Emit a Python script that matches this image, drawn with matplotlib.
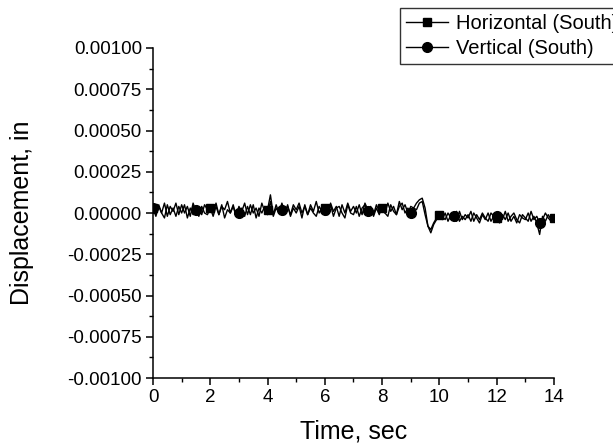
import numpy as np
import matplotlib
matplotlib.use('Agg')
import matplotlib.pyplot as plt
from matplotlib.ticker import MultipleLocator, FormatStrFormatter

plt.rcParams['font.family'] = ['Liberation Sans', 'DejaVu Sans']

# time samples, sec
t = np.linspace(0, 14, 141)

# displacements, in 1e-5 in
horiz_e5 = [3, -1, 5, 0, 6, -2, 4, 1, 6, -1,
            5, 0, 4, -2, 6, 1, 3, -1, 5, 2,
            3, 0, 6, -1, 4, 2, 7, 0, 5, -2,
            4, 1, 6, -1, 5, 0, 3, -2, 6, 1,
            2, 11, -1, 5, 0, 6, 1, 4, -1, 5,
            2, 6, 0, 4, -1, 5, 1, 7, 0, 3,
            3, -1, 6, 1, 4, -2, 5, 0, 6, 1,
            4, 0, 5, -1, 6, 2, 3, -1, 5, 1,
            3, 0, 6, 1, 4, -1, 7, 2, 5, 0,
            4, 3, 6, 8, 9, 3, -8, -12, -7, -4,
            -1, -4, 0, -5, -1, -3, 1, -5, -2, -4,
            -1, -5, 0, -3, -6, -1, -4, 0, -5, -2,
            -3, -6, -1, -4, 0, -5, -2, -6, -1, -3,
            -4, 0, -5, -2, -6, -13, -2, -5, -1, -4,
            -3]
vert_e5 = [3, -2, 4, 0, -3, 5, -1, 3, -2, 4,
           0, 5, -3, 3, -1, 2, -2, 4, 0, -1,
           3, -2, 4, -1, 5, -3, 2, 0, 4, -2,
           0, 3, -2, 4, -1, 5, -3, 3, 0, 4,
           -1, 7, -2, 3, 0, 2, -1, 5, -2, 3,
           0, 4, -3, 5, -1, 3, 0, -2, 4, 1,
           2, -1, 5, -2, 3, 4, 0, -3, 5, 0,
           -1, 4, -2, 3, 5, 1, 4, -2, 3, -1,
           4, 0, -2, 5, 1, -1, 4, 6, 0, 3,
           0, 3, 2, 6, 7, -1, -8, -10, -6, -3,
           0, -2, -4, 0, -3, -2, -5, 1, -4, -1,
           -3, 1, -5, -1, -4, 0, -3, -5, 0, -2,
           -2, 0, -4, 1, -5, -2, 0, -4, -6, -1,
           -3, -5, 1, -4, -2, -6, -4, 0, -3, -5,
           -3]

horiz = np.array(horiz_e5) * 1e-5
vert = np.array(vert_e5) * 1e-5

fig = plt.figure(figsize=(6.13, 4.44), dpi=100)
ax = fig.add_axes([0.2496, 0.1486, 0.6541, 0.7433])

ax.plot(t, horiz, color='black', lw=1.0, marker='s', ms=6, markevery=20,
        label='Horizontal (South)')
ax.plot(t, vert, color='black', lw=1.0, marker='o', ms=7, markevery=15,
        label='Vertical (South)')

ax.set_xlim(0, 14)
ax.set_ylim(-0.001, 0.001)
ax.xaxis.set_major_locator(MultipleLocator(2))
ax.xaxis.set_minor_locator(MultipleLocator(1))
ax.yaxis.set_major_locator(MultipleLocator(0.00025))
ax.yaxis.set_minor_locator(MultipleLocator(0.000125))
ax.yaxis.set_major_formatter(FormatStrFormatter('%.5f'))

for s in ['top', 'right']:
    ax.spines[s].set_visible(False)
for s in ['left', 'bottom']:
    ax.spines[s].set_linewidth(1.1)
ax.tick_params(which='major', direction='out', length=5, width=1.1,
               labelsize=13.5, pad=3)
ax.tick_params(which='minor', direction='out', length=3, width=1.0)

ax.set_xlabel('Time, sec', fontsize=18)
ax.set_ylabel('Displacement, in', fontsize=18)
ax.xaxis.set_label_coords(0.5, -0.125)
ax.yaxis.set_label_coords(-0.297, 0.5)

leg = fig.legend(loc='upper left', bbox_to_anchor=(400 / 613, 1 - 8 / 444),
                 fontsize=14.5, frameon=True, fancybox=False, edgecolor='black',
                 handlelength=2.1, handletextpad=0.4, borderpad=0.3,
                 labelspacing=0.3, borderaxespad=0)
leg.get_frame().set_linewidth(1.0)

fig.savefig('out.png', dpi=100)
